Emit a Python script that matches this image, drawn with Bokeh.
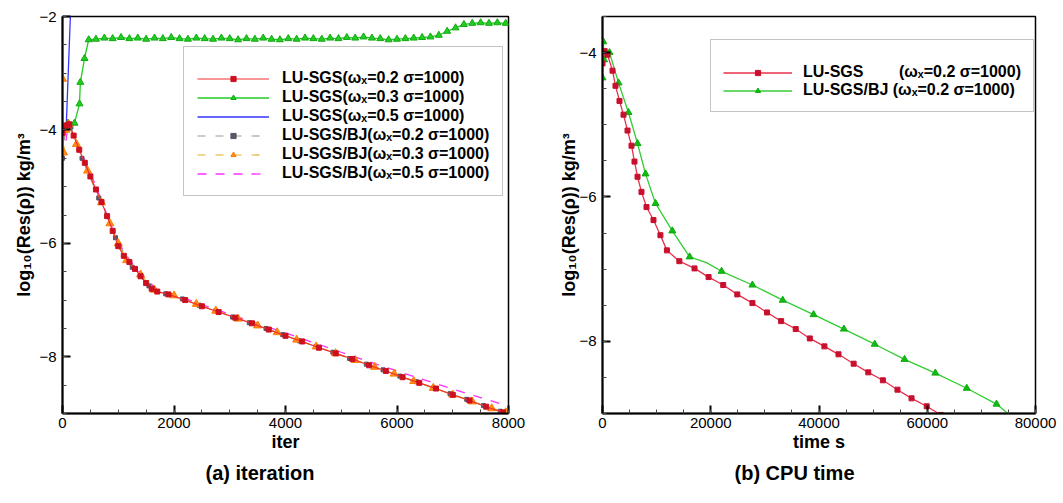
from bokeh.plotting import figure
from bokeh.models import (Range1d, Legend, LegendItem, Title, ColumnDataSource,
                          CDSView, IndexFilter, SingleIntervalTicker, BasicTickFormatter)
from bokeh.layouts import row
from bokeh.embed import file_html
from bokeh.resources import INLINE

FONT = "Liberation Sans"

# ---------------- data: (a) iteration ----------------
red_iter = [0, 60, 120, 200, 300, 400, 500, 600, 700, 800, 900, 1000, 1100, 1200, 1300,
            1400, 1500, 1600, 1700, 1900, 2200, 2500, 2800, 3100, 3400, 3700, 4000, 4300,
            4600, 4900, 5200, 5500, 5800, 6100, 6400, 6700, 7000, 7300, 7600, 7900]
red_res = [-4.05, -3.92, -3.90, -4.10, -4.35, -4.58, -4.82, -5.05, -5.27, -5.52, -5.78,
           -6.05, -6.22, -6.33, -6.45, -6.58, -6.70, -6.80, -6.85, -6.90, -7.00, -7.11,
           -7.21, -7.31, -7.41, -7.52, -7.63, -7.73, -7.84, -7.94, -8.04, -8.15, -8.25,
           -8.36, -8.46, -8.56, -8.67, -8.77, -8.88, -8.98]

green_iter = [0, 100, 215, 305, 320, 395, 470, 600, 750, 900, 1050, 1200, 1350, 1500, 1650,
              1800, 1950, 2100, 2250, 2400, 2550, 2700, 2850, 3000, 3150, 3300, 3450, 3600,
              3750, 3900, 4050, 4200, 4350, 4500, 4650, 4800, 4950, 5100, 5250, 5400, 5550,
              5700, 5850, 6000, 6150, 6300, 6450, 6600, 6750, 6900, 7050, 7200, 7350, 7500,
              7650, 7800, 7950]
green_res = [-4.00, -3.88, -3.88, -3.54, -3.16, -2.74, -2.41, -2.40, -2.38, -2.39, -2.37,
             -2.39, -2.38, -2.40, -2.38, -2.39, -2.37, -2.39, -2.40, -2.38, -2.39, -2.40,
             -2.38, -2.39, -2.41, -2.39, -2.40, -2.38, -2.40, -2.41, -2.39, -2.40, -2.38,
             -2.39, -2.40, -2.38, -2.39, -2.37, -2.38, -2.36, -2.38, -2.39, -2.41, -2.40,
             -2.39, -2.38, -2.37, -2.36, -2.33, -2.26, -2.20, -2.14, -2.12, -2.11, -2.12,
             -2.11, -2.12]

blue_iter = [0, 70, 145, 190]
blue_res = [-4.05, -3.86, -1.9, -1.0]

gray_iter = [0, 50, 150, 350, 650, 950, 1250, 1550, 1850, 2150, 2450, 2750, 3050, 3350,
             3650, 3950, 4250, 4550, 4850, 5150, 5450, 5750, 6050, 6350, 6650, 6950, 7250,
             7550, 7850]
gray_res = [-4.50, -4.00, -3.95, -4.50, -5.20, -5.90, -6.42, -6.75, -6.89, -6.98, -7.09,
            -7.19, -7.30, -7.40, -7.50, -7.61, -7.72, -7.82, -7.92, -8.03, -8.13, -8.23,
            -8.34, -8.44, -8.55, -8.65, -8.75, -8.86, -8.96]

orange_iter = [0, 20, 60, 110, 250, 450, 700, 850, 1000, 1150, 1400, 1650, 2000, 2400, 2750,
               3150, 3500, 3850, 4200, 4550, 4900, 5250, 5600, 5950, 6300, 6650, 7000, 7350,
               7700, 7950]
orange_res = [-3.10, -4.40, -4.00, -3.90, -4.25, -4.72, -5.28, -5.65, -6.00, -6.30, -6.55,
              -6.82, -6.92, -7.07, -7.19, -7.33, -7.45, -7.57, -7.70, -7.82, -7.94, -8.06,
              -8.18, -8.30, -8.43, -8.55, -8.67, -8.79, -8.91, -8.98]

magenta_iter = [0, 50, 100, 300, 600, 900, 1100, 1350, 1700, 2000, 2500, 3000, 4000, 5000,
                6000, 7000, 8000]
magenta_res = [-4.50, -4.30, -3.90, -4.30, -5.00, -5.75, -6.15, -6.48, -6.82, -6.90, -7.08,
               -7.25, -7.58, -7.92, -8.25, -8.57, -8.87]

labels_a = ["LU-SGS(\u03c9\u2093=0.2 \u03c3=1000)",
            "LU-SGS(\u03c9\u2093=0.3 \u03c3=1000)",
            "LU-SGS(\u03c9\u2093=0.5 \u03c3=1000)",
            "LU-SGS/BJ(\u03c9\u2093=0.2 \u03c3=1000)",
            "LU-SGS/BJ(\u03c9\u2093=0.3 \u03c3=1000)",
            "LU-SGS/BJ(\u03c9\u2093=0.5 \u03c3=1000)"]

# ---------------- data: (b) CPU time ----------------
sgs_t = [0, 400, 920, 1850, 2400, 3140, 3880, 4620, 5360, 5910, 6470, 7200, 8130, 9420,
         10700, 11900, 14200, 17000, 19600, 22300, 24900, 27700, 30400, 33000, 35700,
         38300, 41000, 43600, 46400, 49100, 51800, 54500, 57100, 59900, 62500]
sgs_res = [-4.15, -3.98, -4.03, -4.25, -4.46, -4.67, -4.86, -5.08, -5.29, -5.51, -5.72,
           -5.93, -6.14, -6.32, -6.53, -6.74, -6.89, -6.99, -7.11, -7.22, -7.35, -7.47,
           -7.60, -7.72, -7.83, -7.96, -8.07, -8.18, -8.31, -8.43, -8.54, -8.67, -8.79,
           -8.90, -9.02]

bj_t = [0, 150, 300, 1300, 2960, 4800, 6470, 7950, 9800, 12900, 16100, 19200, 22000, 27700,
        33300, 39000, 44600, 50300, 55800, 61500, 67300, 72800, 75200]
bj_res = [-4.35, -3.85, -4.10, -4.00, -4.42, -4.83, -5.26, -5.68, -6.09, -6.47, -6.83,
          -6.91, -7.03, -7.22, -7.43, -7.63, -7.83, -8.04, -8.25, -8.44, -8.65, -8.87, -9.02]
bj_marker_idx = [0, 1, 2, 3, 4, 5, 6, 7, 8, 9, 10, 12, 13, 14, 15, 16, 17, 18, 19, 20, 21]

labels_b = ["LU-SGS" + "\u00a0" * 8 + "(\u03c9\u2093=0.2 \u03c3=1000)",
            "LU-SGS/BJ (\u03c9\u2093=0.2 \u03c3=1000)"]

ylab = "log\u2081\u2080(Res(\u03c1)) kg/m\u00b3"


def make_fig(xr, yr, w, h, top, left, right, bottom, xint, xlabel, ylab_standoff):
    p = figure(output_backend="svg", toolbar_location=None,
               width=w, height=h,
               x_range=Range1d(*xr), y_range=Range1d(*yr),
               min_border_top=top, min_border_left=left,
               min_border_right=right, min_border_bottom=bottom)
    p.background_fill_color = "white"
    p.border_fill_color = "white"
    p.outline_line_color = "black"
    p.outline_line_width = 1.5
    p.outline_line_alpha = 1
    p.grid.visible = False
    p.xaxis.ticker = SingleIntervalTicker(interval=xint, num_minor_ticks=4)
    p.yaxis.ticker = SingleIntervalTicker(interval=2, num_minor_ticks=4)
    p.xaxis.formatter = BasicTickFormatter(use_scientific=False)
    for ax in (p.xaxis[0], p.yaxis[0]):
        ax.axis_line_color = "black"
        ax.axis_line_width = 2
        ax.major_tick_in = 8
        ax.major_tick_out = 0
        ax.minor_tick_in = 4
        ax.minor_tick_out = 0
        ax.major_tick_line_width = 2
        ax.minor_tick_line_width = 1
        ax.major_tick_line_color = "black"
        ax.minor_tick_line_color = "#444444"
        ax.major_label_text_font = FONT
        ax.major_label_text_font_size = "15px"
        ax.major_label_text_color = "black"
        ax.axis_label_text_font = FONT
        ax.axis_label_text_font_size = "18px"
        ax.axis_label_text_font_style = "bold"
        ax.axis_label_text_color = "black"
    p.xaxis.major_label_standoff = 4
    p.xaxis.axis_label_standoff = 1
    p.yaxis.major_label_standoff = 6
    p.yaxis.axis_label_standoff = ylab_standoff
    p.xaxis.axis_label = xlabel
    p.yaxis.axis_label = ylab
    return p


def style_legend(leg):
    leg.label_text_font = FONT
    leg.label_text_font_style = "bold"
    leg.label_text_font_size = "16px"
    leg.label_text_color = "black"
    leg.border_line_color = "#8a8a8a"
    leg.border_line_width = 1
    leg.background_fill_color = "white"
    leg.background_fill_alpha = 1
    leg.glyph_height = 13
    leg.label_height = 18
    leg.margin = 0
    leg.title = "\u00a0"
    leg.title_text_font_size = "4px"


# ---------------- (a) ----------------
pa = make_fig((0, 8000), (-9, -2), 540, 495, 9, 62, 32, 80, 2000, "iter", 2)

r_blue = pa.line(blue_iter, blue_res, line_color="#3535ff", line_width=1.3)
g_line = pa.line(green_iter, green_res, line_color="#22cc22", line_width=1.3)
g_mk = pa.scatter(green_iter, green_res, marker="triangle", size=7,
                  fill_color="#22cc22", line_color="#11aa11")
m_line = pa.line(magenta_iter, magenta_res, line_color="#ff30ff", line_width=1.3,
                 line_dash="9 9")
gr_line = pa.line(gray_iter, gray_res, line_color="#9a9a9a", line_width=1.2,
                  line_dash="8 10")
gr_mk = pa.scatter(gray_iter, gray_res, marker="square", size=4,
                   fill_color="#555566", line_color="#555566")
o_line = pa.line(orange_iter, orange_res, line_color="#e0b020", line_width=1.2,
                 line_dash="8 10")
o_mk = pa.scatter(orange_iter, orange_res, marker="triangle", size=8,
                  fill_color="#ff8c1a", line_color="#ff7a00")
r_line = pa.line(red_iter, red_res, line_color="#f03030", line_width=1.2)
r_mk = pa.scatter(red_iter, red_res, marker="square", size=5,
                  fill_color="#cc1020", line_color="#cc1020")

leg_a = Legend(items=[
    LegendItem(label=labels_a[0], renderers=[r_line, r_mk]),
    LegendItem(label=labels_a[1], renderers=[g_line, g_mk]),
    LegendItem(label=labels_a[2], renderers=[r_blue]),
    LegendItem(label=labels_a[3], renderers=[gr_line, gr_mk]),
    LegendItem(label=labels_a[4], renderers=[o_line, o_mk]),
    LegendItem(label=labels_a[5], renderers=[m_line]),
], location=(121, 217))
style_legend(leg_a)
leg_a.glyph_width = 72
leg_a.padding = 13
leg_a.spacing = 1
leg_a.label_standoff = 13
leg_a.title_standoff = 4
pa.add_layout(leg_a)

cap_a = Title(text="(a) iteration", align="left", offset=143,
              text_font=FONT, text_font_size="20px", text_font_style="bold",
              text_color="black")
pa.add_layout(cap_a, "below")

# ---------------- (b) ----------------
pb = make_fig((0, 80000), (-9, -3.5), 517, 495, 16, 62, 22, 82, 20000, "time s", -3)

src_bj = ColumnDataSource(data=dict(t=bj_t, v=bj_res))
b_line = pb.line("t", "v", source=src_bj, line_color="#33cc33", line_width=1.3)
b_mk = pb.scatter("t", "v", source=src_bj, view=CDSView(filter=IndexFilter(bj_marker_idx)),
                  marker="triangle", size=7, fill_color="#11bb11", line_color="#11aa11")
s_line = pb.line(sgs_t, sgs_res, line_color="#e8304c", line_width=1.3)
s_mk = pb.scatter(sgs_t, sgs_res, marker="square", size=5,
                  fill_color="#c8102e", line_color="#c8102e")

leg_b = Legend(items=[
    LegendItem(label=labels_b[0], renderers=[s_line, s_mk]),
    LegendItem(label=labels_b[1], renderers=[b_line, b_mk]),
], location=(108, 301))
style_legend(leg_b)
leg_b.glyph_width = 69
leg_b.padding = 12
leg_b.spacing = 0
leg_b.label_standoff = 11
leg_b.title_standoff = 6
pb.add_layout(leg_b)

cap_b = Title(text="(b) CPU time", align="left", offset=132,
              text_font=FONT, text_font_size="20px", text_font_style="bold",
              text_color="black")
pb.add_layout(cap_b, "below")

layout = row(pa, pb)
open("out.html", "w").write(file_html(layout, INLINE))
